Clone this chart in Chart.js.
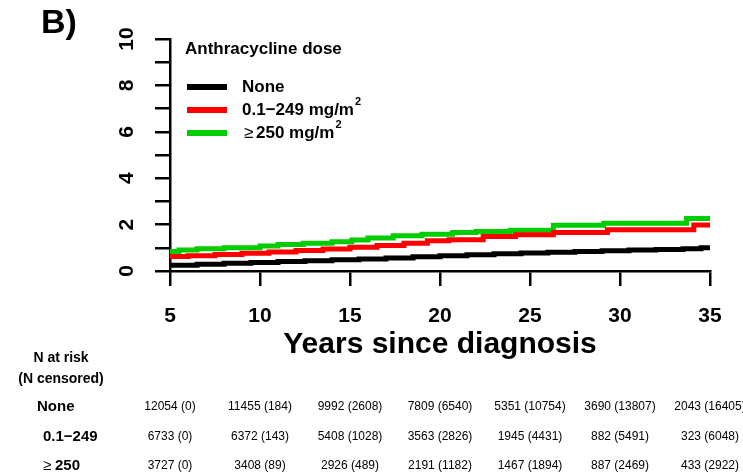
<!DOCTYPE html>
<html>
<head>
<meta charset="utf-8">
<script src="https://cdn.jsdelivr.net/npm/chart.js@4.4.1/dist/chart.umd.min.js"></script>
<style>
  html, body { margin: 0; padding: 0; background: #fff; }
  #wrap { width: 743px; height: 475px; }
</style>
</head>
<body>
<div id="wrap"><canvas id="incidenceChart" width="743" height="475"></canvas></div>
<script>
const FONT = '"Liberation Sans", Arial, Helvetica, sans-serif';

// cumulative incidence (%) step curves, one time grid per dose group
const noneYears = [5, 6.5, 8, 9.5, 11, 12.5, 14, 15.5, 17, 18.5, 20, 21.5, 23, 24.5, 26, 27.5, 29, 30.5, 32, 33.5, 34.5, 35];
const noneIncidence = [0.25, 0.29, 0.33, 0.37, 0.41, 0.44, 0.48, 0.52, 0.56, 0.61, 0.66, 0.70, 0.74, 0.78, 0.81, 0.84, 0.87, 0.90, 0.93, 0.96, 1.0, 1.0];

const lowYears = [5, 6, 7.5, 9, 10.5, 12, 13.5, 15, 16.5, 18, 19.3, 20.5, 22.4, 24.2, 26.3, 29.3, 34.1, 35];
const lowIncidence = [0.62, 0.66, 0.71, 0.76, 0.82, 0.88, 0.95, 1.02, 1.10, 1.20, 1.30, 1.35, 1.49, 1.56, 1.66, 1.78, 1.98, 1.98];

const highYears = [5, 5.5, 6.5, 8, 10, 11, 12.4, 14, 15.1, 16, 17.4, 19, 20.7, 22, 23.9, 26.3, 29.1, 33.7, 35];
const highIncidence = [0.84, 0.90, 0.96, 1.00, 1.08, 1.14, 1.20, 1.26, 1.34, 1.42, 1.52, 1.58, 1.66, 1.70, 1.76, 1.97, 2.06, 2.26, 2.26];

// numbers at risk (censored) table
const riskYears = [5, 10, 15, 20, 25, 30, 35];
const noneAtRisk = [12054, 11455, 9992, 7809, 5351, 3690, 2043];
const noneCensored = [0, 184, 2608, 6540, 10754, 13807, 16405];
const lowAtRisk = [6733, 6372, 5408, 3563, 1945, 882, 323];
const lowCensored = [0, 143, 1028, 2826, 4431, 5491, 6048];
const highAtRisk = [3727, 3408, 2926, 2191, 1467, 887, 433];
const highCensored = [0, 89, 489, 1182, 1894, 2469, 2922];

const yTicks = [0, 2, 4, 6, 8, 10];

const toPoints = (xs, ys) => xs.map((x, i) => ({ x, y: ys[i] }));

// ── annotations: panel letter, y labels, legend, risk table ──
const annotations = {
  id: 'annotations',
  afterDraw(chart) {
    const { ctx, scales: { x, y } } = chart;
    ctx.save();
    ctx.fillStyle = '#000';

    // panel letter
    ctx.font = `bold 34px ${FONT}`;
    ctx.textAlign = 'left';
    ctx.textBaseline = 'middle';
    ctx.fillText('B)', 41, 24);

    // y tick labels, rotated like base graphics
    ctx.font = `bold 21px ${FONT}`;
    ctx.textAlign = 'center';
    yTicks.forEach(v => {
      ctx.save();
      ctx.translate(127, y.getPixelForValue(v));
      ctx.rotate(-Math.PI / 2);
      ctx.fillText(String(v), 0, 0);
      ctx.restore();
    });

    // legend
    ctx.textAlign = 'left';
    ctx.font = `bold 17px ${FONT}`;
    ctx.fillText('Anthracycline dose', 185, 49);

    const rows = [
      { color: '#000000', y: 87 },
      { color: '#ff0000', y: 110 },
      { color: '#00cd00', y: 133 }
    ];
    rows.forEach(r => {
      ctx.strokeStyle = r.color;
      ctx.lineWidth = 6;
      ctx.beginPath();
      ctx.moveTo(187, r.y);
      ctx.lineTo(227, r.y);
      ctx.stroke();
    });

    ctx.font = `bold 17px ${FONT}`;
    ctx.fillText('None', 242, 87);

    let w = ctx.measureText('0.1\u2212249 mg/m').width;
    ctx.fillText('0.1\u2212249 mg/m', 242, 110);
    ctx.font = `bold 11px ${FONT}`;
    ctx.fillText('2', 242 + w + 1, 102);

    ctx.font = `17px ${FONT}`;
    ctx.fillText('\u2265', 244, 133);
    ctx.font = `bold 17px ${FONT}`;
    w = ctx.measureText('250 mg/m').width;
    ctx.fillText('250 mg/m', 256, 133);
    ctx.font = `bold 11px ${FONT}`;
    ctx.fillText('2', 256 + w + 1, 125);

    // risk table
    ctx.textAlign = 'center';
    ctx.font = `bold 14px ${FONT}`;
    ctx.fillText('N at risk', 61, 358);
    ctx.fillText('(N censored)', 61, 379);

    ctx.textAlign = 'left';
    ctx.font = `bold 15px ${FONT}`;
    ctx.fillText('None', 37, 407);
    ctx.fillText('0.1\u2212249', 43, 437);
    ctx.font = `15px ${FONT}`;
    ctx.fillText('\u2265', 43, 466);
    ctx.font = `bold 15px ${FONT}`;
    ctx.fillText('250', 55, 466);

    ctx.textAlign = 'center';
    ctx.font = `12px ${FONT}`;
    const table = [
      [noneAtRisk, noneCensored, 407],
      [lowAtRisk, lowCensored, 437],
      [highAtRisk, highCensored, 466]
    ];
    table.forEach(([n, c, rowY]) => {
      riskYears.forEach((yr, i) => {
        ctx.fillText(`${n[i]} (${c[i]})`, x.getPixelForValue(yr), rowY);
      });
    });

    ctx.restore();
  }
};

const ctx = document.getElementById('incidenceChart').getContext('2d');

const lineStyle = color => ({
  borderColor: color,
  backgroundColor: color,
  borderWidth: 5,
  pointRadius: 0,
  stepped: true,
  fill: false,
  borderCapStyle: 'butt'
});

new Chart(ctx, {
  type: 'line',
  data: {
    datasets: [
      { label: 'None', data: toPoints(noneYears, noneIncidence), ...lineStyle('#000000') },
      { label: '0.1-249 mg/m2', data: toPoints(lowYears, lowIncidence), ...lineStyle('#ff0000') },
      { label: '>=250 mg/m2', data: toPoints(highYears, highIncidence), ...lineStyle('#00cd00') }
    ]
  },
  options: {
    responsive: false,
    animation: false,
    layout: { padding: { left: 110, right: 33, top: 39, bottom: 112 } },
    plugins: {
      legend: { display: false },
      tooltip: { enabled: false }
    },
    scales: {
      x: {
        type: 'linear',
        min: 5,
        max: 35,
        ticks: {
          stepSize: 5,
          color: '#000',
          font: { family: FONT, size: 21, weight: 'bold' },
          padding: 18,
          maxRotation: 0
        },
        grid: { drawOnChartArea: false, drawTicks: true, tickLength: 15, color: '#000', lineWidth: 2.5 },
        border: { display: true, color: '#000', width: 2.5 },
        title: {
          display: true,
          text: 'Years since diagnosis',
          color: '#000',
          font: { family: FONT, size: 30, weight: 'bold' },
          padding: { top: 0, bottom: 0 }
        },
        afterFit: scale => { scale.height = 92; }
      },
      y: {
        type: 'linear',
        min: 0,
        max: 10,
        ticks: { stepSize: 1, display: false },
        grid: { drawOnChartArea: false, drawTicks: true, tickLength: 15, color: '#000', lineWidth: 2.5 },
        border: { display: true, color: '#000', width: 2.5 },
        afterFit: scale => { scale.width = 60; }
      }
    }
  },
  plugins: [annotations]
});
</script>
</body>
</html>
